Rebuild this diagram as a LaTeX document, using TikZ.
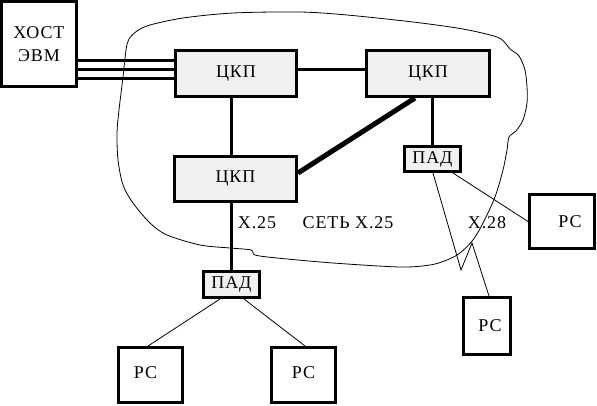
\documentclass[tikz,border=0pt]{standalone}
\usepackage{fontspec}
\setmainfont{Liberation Serif}
\newfontfamily\diagfont{Liberation Serif}[LetterSpace=5]
\begin{document}
\begin{tikzpicture}[x=1pt,y=-1pt,
  every node/.style={font=\diagfont\fontsize{18}{22}\selectfont, inner sep=0pt},
  box/.style={draw, line width=3pt, rectangle},
  hub/.style={box, fill=gray!12},
  thick3/.style={line width=3pt},
  thin1/.style={line width=0.8pt},
  lbl/.style={}]
\useasboundingbox (0,0) rectangle (597,405);
% cloud
\draw[thin1] plot[smooth cycle, tension=0.5] coordinates {
 (126,50) (129,39) (137,31) (150,25) (183,18) (233,13) (300,12) (347,15) (413,22) (463,29) (497,37) (506,44) (510,49)
 (519,56) (525,70) (527,87) (527,103) (523,120) (516,131) (509,137) (507,150) (503,170) (495,197) (483,223) (473,240)
 (460,253) (447,260) (430,265) (400,267) (333,263) (277,258) (255,255) (251,250) (230,248) (200,245) (167,235)
 (150,223) (133,203) (123,185) (118,160) (117,133) (119,110) (123,77)};
% nodes
\node[box, minimum width=75, minimum height=85, align=center] (host) at (39,44) {ХОСТ\\[1pt]ЭВМ};
\node[hub, minimum width=121, minimum height=46] (ckp1) at (236,73.5) {ЦКП};
\node[hub, minimum width=123, minimum height=46] (ckp2) at (428,73.5) {ЦКП};
\node[hub, minimum width=122, minimum height=45] (ckp3) at (235.5,179) {ЦКП};
\node[hub, minimum width=56, minimum height=25] (padr) at (432.5,159) {ПАД};
\node[hub, minimum width=56, minimum height=26] (padb) at (231.5,284.5) {ПАД};
\node[box, minimum width=65, minimum height=54] (pcr) at (562,221.5) {\hspace*{16pt}РС};
\node[box, minimum width=47, minimum height=57] (pcb) at (487,326) {\hspace*{6pt}РС};
\node[box, minimum width=64, minimum height=55] (pcl) at (150.5,375) {\raisebox{4pt}{РС}\hspace*{10pt}};
\node[box, minimum width=64, minimum height=55] (pcm) at (303.5,375) {\raisebox{4pt}{РС}};
% labels
\node[lbl] (l1) at (257,223) {X.25};
\node[lbl] (l2) at (348,223) {СЕТЬ X.25};
\node[lbl] (l3) at (487,223) {X.28};
% connectors
\draw[thick3] (host.east |- 0,60) -- (ckp1.west |- 0,60);
\draw[thick3] (host.east |- 0,69) -- (ckp1.west |- 0,69);
\draw[thick3] (host.east |- 0,78) -- (ckp1.west |- 0,78);
\draw[thick3] (ckp1.east |- 0,69) -- (ckp2.west |- 0,69);
\draw[thick3] (ckp1.south -| 231,0) -- (ckp3.north -| 231,0);
\draw[line width=5pt] (ckp2.south -| 415,0) -- (ckp3.east |- 0,173);
\draw[thick3] (ckp2.south -| 432.5,0) -- (padr.north);
\draw[thick3] (ckp3.south -| 231,0) -- (padb.north -| 231,0);
\draw[thin1] (padb.south -| 220,0) -- (pcl.north -| 148,0);
\draw[thin1] (padb.south -| 244,0) -- (pcm.north -| 305,0);
\draw[thin1] (padr.south -| 453,0) -- (pcr.west);
\draw[thin1] (padr.south -| 433,0) -- (461,270) -- (472,243) -- (pcb.north -| 489,0);
\end{tikzpicture}
\end{document}
